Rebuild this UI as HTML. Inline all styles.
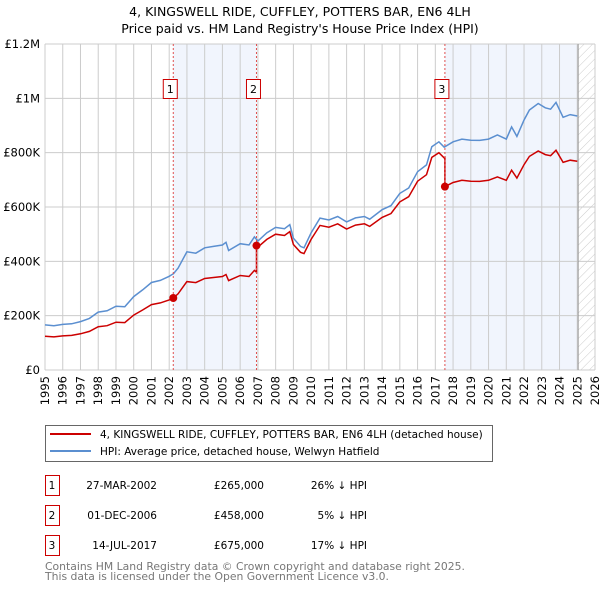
<!DOCTYPE html>
<html><head><meta charset="utf-8"><style>
body{margin:0;background:#fff;width:600px;height:590px;overflow:hidden;font-family:"Liberation Sans","DejaVu Sans",sans-serif}
svg text{font-family:"DejaVu Sans","Liberation Sans",sans-serif}
</style></head><body>
<svg id="chart" width="600" height="590" xmlns="http://www.w3.org/2000/svg">
<text x="300" y="16" font-size="12.5" text-anchor="middle">4, KINGSWELL RIDE, CUFFLEY, POTTERS BAR, EN6 4LH</text>
<text x="300" y="33" font-size="12.5" text-anchor="middle">Price paid vs. HM Land Registry's House Price Index (HPI)</text>
<defs><pattern id="hatch" width="6" height="6" patternUnits="userSpaceOnUse" patternTransform="rotate(45)"><line x1="0" y1="0" x2="0" y2="6" stroke="#ccc" stroke-width="1"/></pattern></defs>
<g id="plot"></g>
<rect x="45.5" y="425.5" width="447" height="36" fill="#fff" stroke="#666"/>
<line x1="50" y1="434" x2="91" y2="434" stroke="#cc0000" stroke-width="2"/>
<text x="100" y="438" font-size="10.5">4, KINGSWELL RIDE, CUFFLEY, POTTERS BAR, EN6 4LH (detached house)</text>
<line x1="50" y1="451" x2="91" y2="451" stroke="#5b8fd0" stroke-width="2"/>
<text x="100" y="455" font-size="10.5">HPI: Average price, detached house, Welwyn Hatfield</text>
<g id="table" font-size="11"></g>
<text x="45" y="570" font-size="10.8" fill="#777">Contains HM Land Registry data © Crown copyright and database right 2025.</text>
<text x="45" y="580" font-size="10.8" fill="#777">This data is licensed under the Open Government Licence v3.0.</text>
</svg>
<script>
const hpiYears=[1995,1995.5,1996,1996.5,1997,1997.5,1998,1998.5,1999,1999.5,2000,2000.5,2001,2001.5,2002,2002.25,2002.5,2003,2003.5,2004,2004.5,2005,2005.2,2005.35,2006,2006.5,2006.8,2007,2007.5,2008,2008.5,2008.8,2009,2009.4,2009.6,2010,2010.5,2011,2011.5,2012,2012.5,2013,2013.3,2014,2014.5,2015,2015.5,2016,2016.5,2016.8,2017.2,2017.5,2018,2018.5,2019,2019.5,2020,2020.5,2021,2021.3,2021.6,2022,2022.3,2022.8,2023.2,2023.5,2023.8,2024.2,2024.6,2025];
const hpiValues=[166,163,168,170,178,190,213,218,235,233,270,295,322,330,345,355,375,435,430,450,455,460,470,440,465,460,490,475,505,525,520,535,485,455,450,505,559,552,565,545,560,565,555,590,605,650,670,730,755,822,840,820,840,850,846,845,850,865,850,895,860,920,957,981,965,960,985,930,940,935];
const saleYears=[2002.23,2006.92,2017.54];
const salePrices=[265,458,675];
const saleLabels=["27-MAR-2002","01-DEC-2006","14-JUL-2017"];
const salePriceText=["£265,000","£458,000","£675,000"];
const saleDiffText=["26% ↓ HPI","5% ↓ HPI","17% ↓ HPI"];
const yTicks=[0,200,400,600,800,1000,1200];
const yTickLabels=["£0","£200K","£400K","£600K","£800K","£1M","£1.2M"];
const xTicks=[];for(let y=1995;y<=2026;y++)xTicks.push(y);

const X0=45,X1=595,Y0=370,Y1=44;
const xs=y=>X0+(y-1995)/31*(X1-X0);
const ys=v=>Y0-v/1200*(Y0-Y1);
const NS="http://www.w3.org/2000/svg";
const plot=document.getElementById('plot');
function mk(tag,attrs,parent){const e=document.createElementNS(NS,tag);for(const k in attrs)e.setAttribute(k,attrs[k]);(parent||plot).appendChild(e);return e;}
function hpiAt(t){for(let i=0;i<hpiYears.length-1;i++){if(t<=hpiYears[i+1]){const f=(t-hpiYears[i])/(hpiYears[i+1]-hpiYears[i]);return hpiValues[i]+f*(hpiValues[i+1]-hpiValues[i]);}}return hpiValues[hpiValues.length-1];}

let r=mk('rect',{x:xs(saleYears[0]),y:Y1,width:xs(saleYears[1])-xs(saleYears[0]),height:Y0-Y1,fill:'#eef3fc',opacity:0.8});


r=mk('rect',{x:xs(saleYears[2]),y:Y1,width:xs(2025.05)-xs(saleYears[2]),height:Y0-Y1,fill:'#eef3fc',opacity:0.8});


r=mk('rect',{x:xs(2025.05),y:Y1,width:X1-xs(2025.05),height:Y0-Y1,fill:'url(#hatch)'});



xTicks.forEach(t=>{const l=mk('line',{x1:xs(t),x2:xs(t),y1:Y1,y2:Y0,stroke:'#ccc','stroke-width':1});


const tx=mk('text',{x:0,y:0,'font-size':11.5,'text-anchor':'end',transform:`translate(${xs(t)+4},${Y0+6}) rotate(-90)`});
tx.textContent=t;

});
yTicks.forEach((v,i)=>{const l=mk('line',{x1:X0,x2:X1,y1:ys(v),y2:ys(v),stroke:'#ccc','stroke-width':1});


const tx=mk('text',{x:X0-5,y:ys(v)+4,'font-size':11.5,'text-anchor':'end'});
tx.textContent=yTickLabels[i];

});
let ln=mk('line',{x1:xs(2025.05),x2:xs(2025.05),y1:Y1,y2:Y0,stroke:'#999','stroke-width':1});



let d=hpiYears.map((t,i)=>(i?'L':'M')+xs(t).toFixed(1)+','+ys(hpiValues[i]).toFixed(1)).join('');
let p=mk('path',{d:d,fill:'none',stroke:'#5b8fd0','stroke-width':1.5});


const pts=[];const times=[...hpiYears,...saleYears].sort((a,b)=>a-b);
times.forEach(t=>{let k=0;for(let j=0;j<saleYears.length;j++)if(t>=saleYears[j])k=j;
const v=hpiAt(t)*salePrices[k]/hpiAt(saleYears[k]);
const prevK=pts.length?pts[pts.length-1].k:k;
if(k!==prevK){const t0=saleYears[k];pts.push({t:t0,v:hpiAt(t0)*salePrices[prevK]/hpiAt(saleYears[prevK]),k:prevK});pts.push({t:t0,v:salePrices[k],k:k});}
pts.push({t:t,v:v,k:k});});
d=pts.map((q,i)=>(i?'L':'M')+xs(q.t).toFixed(1)+','+ys(q.v).toFixed(1)).join('');
p=mk('path',{d:d,fill:'none',stroke:'#cc0000','stroke-width':1.5});



saleYears.forEach((t,i)=>{const v=mk('line',{x1:xs(t),x2:xs(t),y1:Y1,y2:Y0,stroke:'#e05050','stroke-width':1,'stroke-dasharray':'2,2'});


const c=mk('circle',{cx:xs(t),cy:ys(salePrices[i]),r:4,fill:'#cc0000'});


const b=mk('rect',{x:xs(t)-10,y:79.5,width:14,height:19,fill:'#fff',stroke:'#cc0000'});


const tx=mk('text',{x:xs(t)-3,y:93,'font-size':11,'text-anchor':'middle'});
tx.textContent=i+1;

});

const tb=document.getElementById('table');
saleYears.forEach((t,i)=>{const y0=475+i*30;
const b=mk('rect',{x:45.5,y:y0+0.5,width:14,height:20,fill:'#fff',stroke:'#cc0000'},tb);


const cells=[[52,String(i+1),'middle'],[157,saleLabels[i],'end'],[264,salePriceText[i],'end'],[367,saleDiffText[i],'end']];
cells.forEach(c=>{const e=mk('text',{x:c[0],y:y0+14,'font-size':10.5,'text-anchor':c[2]},tb);
e.textContent=c[1];

});});
</script>
</body></html>
